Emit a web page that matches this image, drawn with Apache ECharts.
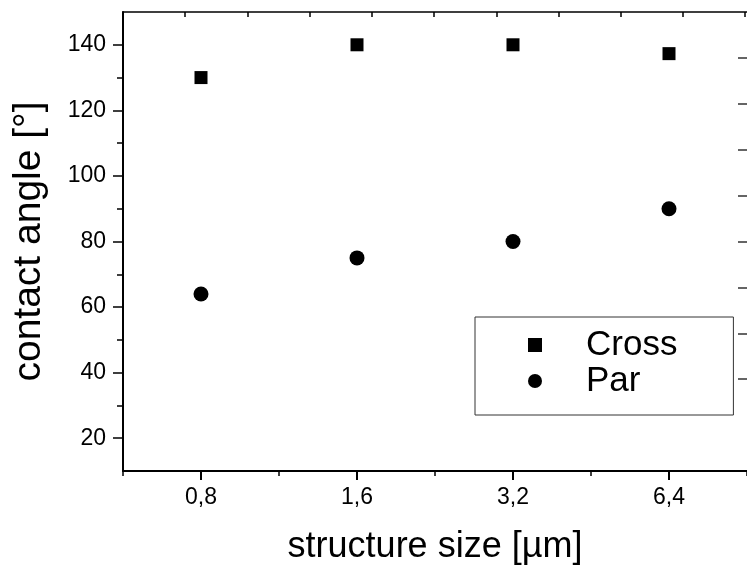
<!DOCTYPE html>
<html>
<head>
<meta charset="utf-8">
<style>
  html, body { margin: 0; padding: 0; background: #fff; }
  #chart { width: 747px; height: 572px; }
</style>
<script src="https://cdn.jsdelivr.net/npm/echarts@6/dist/echarts.min.js"></script>
</head>
<body>
<div id="chart"></div>
<script>
// structure sizes (µm)
const categories = ["0,8", "1,6", "3,2", "6,4"];
// contact angles (°)
const crossValues = [130, 140, 140, 137.3];
const parValues = [64, 75, 80, 90];
// y ticks
const yMajorTicks = [20, 40, 60, 80, 100, 120, 140];
const yMinorTicks = [30, 50, 70, 90, 110, 130];
const rightTicks = [136, 122, 108, 94, 80, 66, 52, 38];
const topTicks = [1, 2, 3, 4, 5, 6, 7, 8, 9, 10];

const font = "'Liberation Sans', Arial, sans-serif";
const black = "#000";

const chart = echarts.init(document.getElementById("chart"));

const option = {
  animation: false,
  backgroundColor: "#fff",
  textStyle: { fontFamily: font, color: black },
  grid: { left: 123, top: 12, right: -5, bottom: 101 },
  legend: {
    orient: "vertical",
    left: 475,
    top: 317,
    itemGap: 0,
    itemWidth: 14,
    itemHeight: 14,
    padding: [10, 56, 16, 53],
    borderColor: "#333",
    borderWidth: 1,
    textStyle: { fontSize: 35, fontFamily: font, color: black, padding: [0, 0, 0, 39], lineHeight: 36 },
    data: ["Cross", "Par"],
  },
  xAxis: [
    {
      type: "category",
      data: categories,
      boundaryGap: true,
      position: "bottom",
      name: "structure size [µm]",
      nameLocation: "middle",
      nameGap: 58,
      nameTextStyle: { fontSize: 36, fontFamily: font, color: black },
      axisLine: { show: true, lineStyle: { color: black, width: 2 } },
      axisTick: { show: true, alignWithLabel: true, interval: 0, length: 9, lineStyle: { color: black, width: 2 } },
      axisLabel: { fontSize: 23, color: black, margin: 15, fontFamily: font },
      splitLine: { show: false },
    },
    {
      type: "category",
      data: categories,
      boundaryGap: true,
      position: "bottom",
      axisLine: { show: false },
      axisTick: { show: true, alignWithLabel: false, interval: 0, length: 5, lineStyle: { color: black, width: 1.5 } },
      axisLabel: { show: false },
      splitLine: { show: false },
    },
    {
      type: "value",
      position: "top",
      min: 0,
      max: 10.03,
      axisLine: { show: true, onZero: false, lineStyle: { color: black, width: 1.5 } },
      axisTick: { show: true, inside: false, length: -5, customValues: topTicks, lineStyle: { color: black, width: 1.5 } },
      axisLabel: { show: false, customValues: topTicks },
      splitLine: { show: false },
    },
  ],
  yAxis: [
    {
      type: "value",
      position: "left",
      min: 10,
      max: 150,
      name: "contact angle [°]",
      nameLocation: "middle",
      nameGap: 74,
      nameTextStyle: { fontSize: 39, fontFamily: font, color: black },
      axisLine: { show: true, onZero: false, lineStyle: { color: black, width: 2 } },
      axisTick: { show: true, length: 10, customValues: yMajorTicks, lineStyle: { color: black, width: 1.5 } },
      axisLabel: { fontSize: 23, color: black, margin: 17, customValues: yMajorTicks, fontFamily: font },
      splitLine: { show: false },
    },
    {
      type: "value",
      position: "left",
      min: 10,
      max: 150,
      axisLine: { show: false, onZero: false },
      axisTick: { show: true, length: 6, customValues: yMinorTicks, lineStyle: { color: black, width: 1.5 } },
      axisLabel: { show: false },
      splitLine: { show: false },
    },
    {
      type: "value",
      position: "right",
      min: 10,
      max: 150,
      axisLine: { show: false, onZero: false },
      axisTick: { show: true, inside: true, length: 9, customValues: rightTicks, lineStyle: { color: "#333", width: 1.5 } },
      axisLabel: { show: false },
      splitLine: { show: false },
    },
  ],
  series: [
    {
      name: "Cross",
      type: "scatter",
      symbol: "rect",
      symbolSize: 13,
      itemStyle: { color: black, opacity: 1 },
      data: crossValues,
    },
    {
      name: "Par",
      type: "scatter",
      symbol: "circle",
      symbolSize: 15,
      itemStyle: { color: black, opacity: 1 },
      data: parValues,
    },
  ],
};

chart.setOption(option);
</script>
</body>
</html>
